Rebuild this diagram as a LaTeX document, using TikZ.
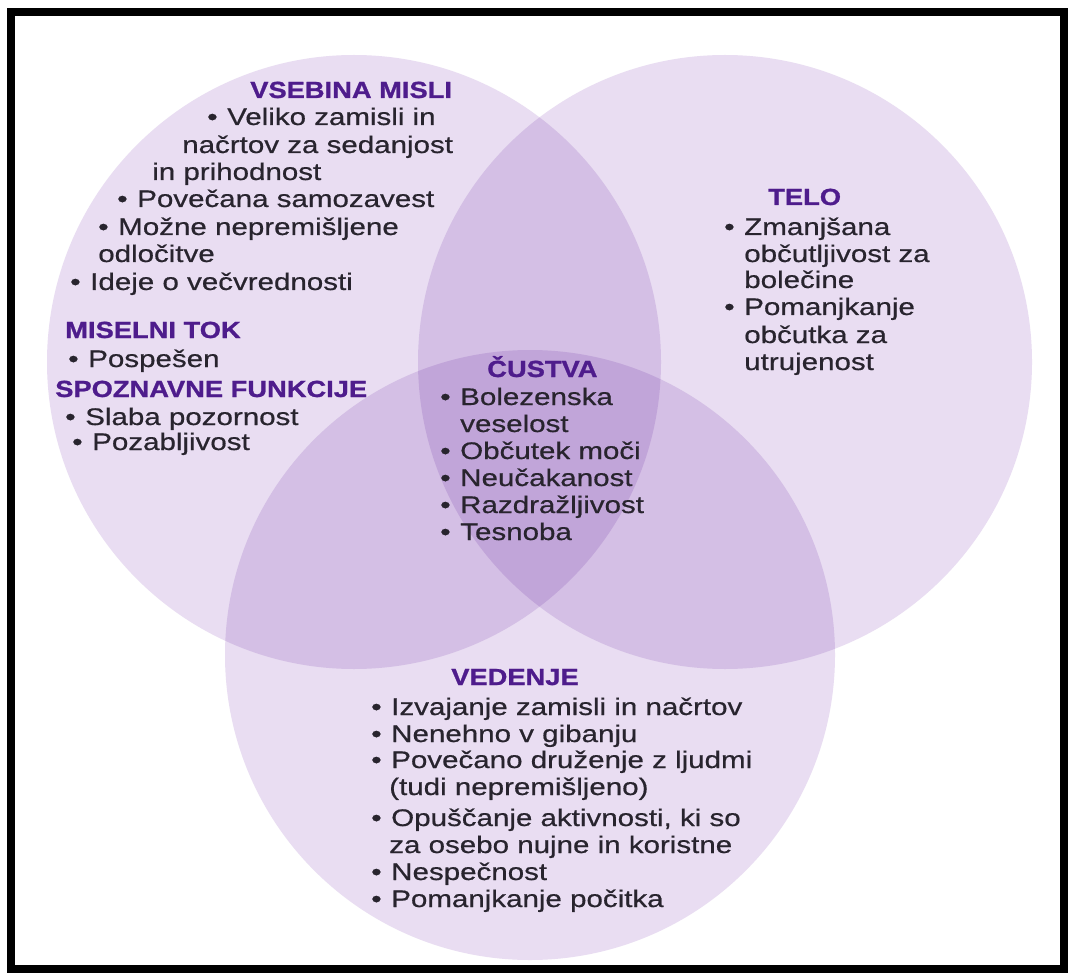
\documentclass[tikz,border=0pt]{standalone}
\usepackage{fontspec}
\setmainfont{Liberation Sans}
\newfontfamily\besedilo[FakeStretch=1.23,FakeBold=0.6]{Liberation Sans}
\newfontfamily\naslov[FakeStretch=1.17,FakeBold=1.0]{Liberation Sans}

\definecolor{vijola}{RGB}{233,221,242}
\definecolor{naslovna}{RGB}{78,28,140}
\definecolor{crnilo}{RGB}{40,36,46}

\tikzset{
  krog/.style={fill=vijola, blend mode=multiply},
  glava/.style={anchor=base west, inner sep=0pt, text=naslovna,
    font=\naslov\bfseries\fontsize{17.5}{20}\selectfont},
  vrstica/.style={anchor=base west, inner sep=0pt, text=crnilo,
    font=\besedilo\fontsize{18}{20}\selectfont}
}
\newcommand{\tocka}{\makebox[15pt][l]{\textbullet}}

\begin{document}
\begin{tikzpicture}[x=0.75pt,y=-0.75pt]

    % Fondo y marco
    \useasboundingbox (0,0) rectangle (1073,980);
    \fill[white] (0,0) rectangle (1073,980);

    % Círculos
    \fill[krog] (354,362) circle (307);
    \fill[krog] (725,362) circle (307);
    \fill[krog] (530,655) circle (305);

    \draw[line width=5.5pt] (11,12) rectangle (1064,969);

    % Vsebina misli
    \node[glava] (vsebina) at (250,98) {VSEBINA MISLI};
    \node[vrstica] (v1) at (207,125) {\tocka Veliko zamisli in};
    \node[vrstica] (v2) at (182,153) {načrtov za sedanjost};
    \node[vrstica] (v3) at (152,180) {in prihodnost};
    \node[vrstica] (v4) at (117,207) {\tocka Povečana samozavest};
    \node[vrstica] (v5) at (98,235) {\tocka Možne nepremišljene};
    \node[vrstica] (v6) at (98,262) {odločitve};
    \node[vrstica] (v7) at (70,290) {\tocka Ideje o večvrednosti};

    % Miselni tok
    \node[glava] (tok) at (65,338) {MISELNI TOK};
    \node[vrstica] (m1) at (68,367) {\tocka Pospešen};

    % Spoznavne funkcije
    \node[glava] (funkcije) at (55,397) {SPOZNAVNE FUNKCIJE};
    \node[vrstica] (s1) at (65,425) {\tocka Slaba pozornost};
    \node[vrstica] (s2) at (72,450) {\tocka Pozabljivost};

    % Telo
    \node[glava] (telo) at (768,205) {TELO};
    \node[vrstica] (t1) at (724,235) {\tocka Zmanjšana};
    \node[vrstica] (t2) at (744,262) {občutljivost za};
    \node[vrstica] (t3) at (744,288) {bolečine};
    \node[vrstica] (t4) at (724,315) {\tocka Pomanjkanje};
    \node[vrstica] (t5) at (744,343) {občutka za};
    \node[vrstica] (t6) at (744,370) {utrujenost};

    % Čustva
    \node[glava] (custva) at (487,377) {ČUSTVA};
    \node[vrstica] (c1) at (440,405) {\tocka Bolezenska};
    \node[vrstica] (c2) at (460,432) {veselost};
    \node[vrstica] (c3) at (440,459) {\tocka Občutek moči};
    \node[vrstica] (c4) at (440,486) {\tocka Neučakanost};
    \node[vrstica] (c5) at (440,513) {\tocka Razdražljivost};
    \node[vrstica] (c6) at (440,540) {\tocka Tesnoba};

    % Vedenje
    \node[glava] (vedenje) at (451,685) {VEDENJE};
    \node[vrstica] (e1) at (371,715) {\tocka Izvajanje zamisli in načrtov};
    \node[vrstica] (e2) at (371,742) {\tocka Nenehno v gibanju};
    \node[vrstica] (e3) at (371,768) {\tocka Povečano druženje z ljudmi};
    \node[vrstica] (e4) at (389,795) {(tudi nepremišljeno)};
    \node[vrstica] (e5) at (371,826) {\tocka Opuščanje aktivnosti, ki so};
    \node[vrstica] (e6) at (389,853) {za osebo nujne in koristne};
    \node[vrstica] (e7) at (371,880) {\tocka Nespečnost};
    \node[vrstica] (e8) at (371,907) {\tocka Pomanjkanje počitka};

\end{tikzpicture}
\end{document}
